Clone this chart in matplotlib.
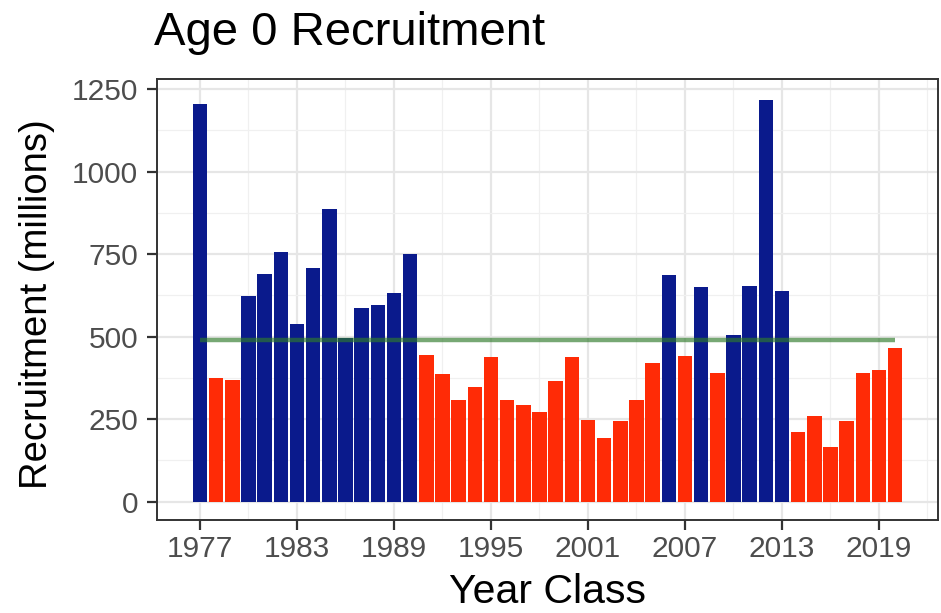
import numpy as np
import matplotlib
matplotlib.use("Agg")
import matplotlib.pyplot as plt

plt.rcParams['font.family'] = ['Liberation Sans', 'DejaVu Sans']

years = list(range(1977, 2021))
recruitment = [
    1205, 376, 368, 623, 691, 757, 538, 709, 888, 497, 588, 596, 632, 750,
    445, 386, 309, 348, 439, 309, 293, 270, 366, 439, 248, 192, 243, 308, 419,
    687, 442, 651, 391, 505, 654, 1217, 639,
    210, 260, 166, 245, 389, 399, 464,
]
x_ticks = [1977, 1983, 1989, 1995, 2001, 2007, 2013, 2019]
y_ticks = [0, 250, 500, 750, 1000, 1250]

above_color = '#0a1a8c'
below_color = '#ff2b06'
mean_color = '#2e7a2a'

vals = np.array(recruitment, dtype=float)
mean_val = vals.mean()
colors = [above_color if v > mean_val else below_color for v in vals]

fig = plt.figure(figsize=(9.41, 6.13), dpi=100)
ax = fig.add_axes([157.3 / 941, 93 / 613, (938 - 157.3) / 941, (520 - 79) / 613])

ax.bar(years, vals, width=0.9, color=colors, zorder=2)
ax.plot([years[0], years[-1]], [mean_val, mean_val], color=mean_color,
        alpha=0.65, linewidth=3.2, solid_capstyle='butt', zorder=3)

ax.set_xlim(1974.36, 2022.65)
ax.set_ylim(-56, 1281)
ax.set_xticks(x_ticks)
ax.set_yticks(y_ticks)
ax.set_xticks([1980, 1986, 1992, 1998, 2004, 2010, 2016, 2022], minor=True)
ax.set_yticks([125, 375, 625, 875, 1125], minor=True)

ax.grid(which='major', color='#e6e6e6', linewidth=1.6, zorder=0)
ax.grid(which='minor', color='#f0f0f0', linewidth=0.9, zorder=0)
ax.set_axisbelow(True)

ax.tick_params(axis='both', which='major', length=7.2, width=1.6, color='#333333',
               labelsize=21.5, labelcolor='#4d4d4d')
ax.tick_params(axis='x', which='major', pad=3.5)
ax.tick_params(axis='y', which='major', pad=6.5)
ax.tick_params(axis='both', which='minor', length=0)
for s in ax.spines.values():
    s.set_color('#333333')
    s.set_linewidth(1.4)

ax.set_xlabel('Year Class', fontsize=29.5, va='baseline')
ax.xaxis.set_label_coords(0.5, (520 - 603) / 441)
ax.set_ylabel('Recruitment (millions)', fontsize=27.5)
ax.yaxis.set_label_coords((55 - 157.3) / 780.7, 0.49)

fig.text(154 / 941, (613 - 45) / 613, 'Age 0 Recruitment', fontsize=34,
         ha='left', va='baseline')

fig.savefig('out.png', dpi=100)
